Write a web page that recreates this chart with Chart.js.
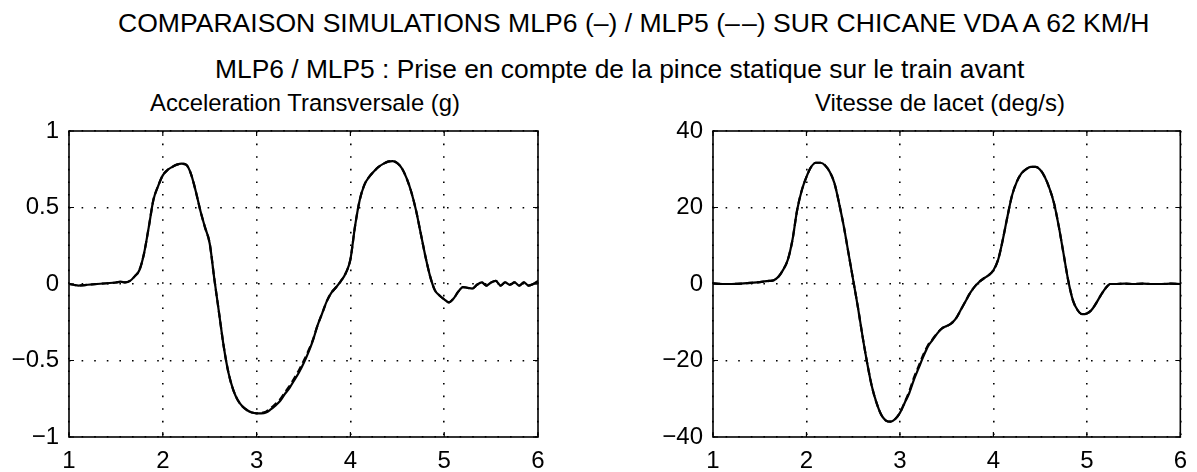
<!DOCTYPE html>
<html>
<head>
<meta charset="utf-8">
<script src="https://cdn.jsdelivr.net/npm/chart.js@4/dist/chart.umd.min.js"></script>
<style>
  html, body { margin: 0; padding: 0; background: #fff; }
  body { width: 1197px; height: 472px; position: relative; overflow: hidden;
         font-family: "Liberation Sans", Arial, Helvetica, sans-serif; color: #000; }
  .t { position: absolute; white-space: nowrap; line-height: 1; }
  canvas { position: absolute; top: 0; }
</style>
</head>
<body>
<div class="t" id="title1">COMPARAISON SIMULATIONS MLP6 (–) / MLP5 (–&#8202;–) SUR CHICANE VDA A 62 KM/H</div>
<div class="t" id="title2">MLP6 / MLP5 : Prise en compte de la pince statique sur le train avant</div>
<div class="t" id="sub1">Acceleration Transversale (g)</div>
<div class="t" id="sub2">Vitesse de lacet (deg/s)</div>
<canvas id="c1" width="600" height="472" style="left:0px"></canvas>
<canvas id="c2" width="597" height="472" style="left:600px"></canvas>
<script>
// ---------- DATA ----------
const xTickValues = [1, 2, 3, 4, 5, 6];
const xTickLabels = ["1", "2", "3", "4", "5", "6"];

const accTickValues = [-1, -0.5, 0, 0.5, 1];
const accTickLabels = ["\u22121", "\u22120.5", "0", "0.5", "1"];
const yawTickValues = [-40, -20, 0, 20, 40];
const yawTickLabels = ["\u221240", "\u221220", "0", "20", "40"];

const timeAcc = [1.0,1.05,1.1,1.2,1.3,1.4,1.5,1.55,1.6,1.65,1.7,1.75,1.8,1.85,1.9,1.95,
  2.0,2.05,2.1,2.15,2.2,2.25,2.3,2.35,2.4,2.45,2.5,2.55,2.6,2.65,2.7,2.75,2.8,2.85,2.9,2.95,
  3.0,3.05,3.1,3.15,3.2,3.25,3.3,3.35,3.4,3.45,3.5,3.55,3.6,3.65,3.7,3.75,3.8,3.85,3.9,3.95,
  4.0,4.05,4.1,4.15,4.2,4.25,4.3,4.35,4.4,4.45,4.5,4.55,4.6,4.65,4.7,4.75,4.8,4.85,4.9,4.95,
  5.0,5.05,5.1,5.15,5.2,5.25,5.3,5.35,5.4,5.45,5.5,5.55,5.6,5.65,5.7,5.75,5.8,5.85,5.9,5.95,6.0];

const accMLP6 = [0.0,-0.005,-0.01,-0.005,0.0,0.005,0.01,0.015,0.01,0.02,0.05,0.09,0.2,0.37,0.55,0.64,
  0.71,0.745,0.765,0.78,0.787,0.78,0.72,0.61,0.48,0.37,0.265,0.03,-0.19,-0.41,-0.58,-0.69,-0.76,-0.8,-0.825,-0.84,
  -0.845,-0.845,-0.84,-0.82,-0.795,-0.765,-0.72,-0.68,-0.63,-0.58,-0.52,-0.45,-0.37,-0.27,-0.19,-0.11,-0.055,-0.02,0.02,0.07,
  0.16,0.38,0.55,0.65,0.7,0.735,0.765,0.785,0.8,0.803,0.79,0.755,0.69,0.6,0.48,0.33,0.18,0.05,-0.04,-0.075,
  -0.1,-0.12,-0.095,-0.05,-0.02,-0.025,-0.03,-0.005,0.01,-0.01,0.01,0.02,-0.01,0.01,-0.005,0.01,-0.01,0.01,-0.01,0.0,0.02];

const accMLP5 = [0.0,-0.005,-0.01,-0.005,0.0,0.005,0.01,0.015,0.01,0.02,0.05,0.09,0.2,0.37,0.55,0.64,
  0.71,0.745,0.765,0.78,0.785,0.778,0.72,0.61,0.48,0.37,0.265,0.03,-0.19,-0.41,-0.58,-0.69,-0.76,-0.8,-0.825,-0.84,
  -0.845,-0.843,-0.835,-0.812,-0.785,-0.755,-0.71,-0.668,-0.618,-0.565,-0.505,-0.44,-0.365,-0.27,-0.19,-0.11,-0.055,-0.02,0.02,0.07,
  0.16,0.38,0.55,0.65,0.7,0.735,0.765,0.785,0.8,0.803,0.79,0.755,0.69,0.6,0.48,0.33,0.18,0.05,-0.04,-0.075,
  -0.1,-0.12,-0.095,-0.05,-0.02,-0.025,-0.03,-0.005,0.01,-0.01,0.01,0.02,-0.01,0.01,-0.005,0.01,-0.01,0.01,-0.01,0.0,0.02];

const timeYaw = [1.0,1.1,1.2,1.3,1.4,1.5,1.6,1.65,1.7,1.75,1.8,1.85,1.9,1.95,
  2.0,2.05,2.1,2.15,2.2,2.25,2.3,2.35,2.4,2.45,2.5,2.55,2.6,2.65,2.7,2.75,2.8,2.85,2.9,2.95,
  3.0,3.05,3.1,3.15,3.2,3.25,3.3,3.35,3.4,3.45,3.5,3.55,3.6,3.65,3.7,3.75,3.8,3.85,3.9,3.95,
  4.0,4.05,4.1,4.15,4.2,4.25,4.3,4.35,4.4,4.45,4.5,4.55,4.6,4.65,4.7,4.75,4.8,4.85,4.9,4.95,
  5.0,5.05,5.1,5.15,5.2,5.25,5.3,5.4,5.5,5.6,5.7,5.8,5.9,6.0];

const yawMLP6 = [0.2,0.0,0.0,0.1,0.3,0.5,0.8,1.0,1.9,3.7,6.3,11.5,19.3,24.5,
  28,30.6,31.7,31.7,31,29.3,26.3,21,15,8,1,-6,-13.7,-20.7,-26.8,-31.1,-34.2,-35.7,-36,-35.3,
  -33.7,-31.1,-28.5,-25,-22,-19,-16.3,-14.6,-12.9,-11.6,-11.0,-10.3,-9,-6.8,-4.6,-2.4,-0.7,0.6,1.5,2.3,
  3.6,6.3,11.5,17.6,23.2,26.7,28.9,30,30.6,30.6,29.9,28,25,21,15,8,1,-4.2,-6.8,-7.9,
  -7.7,-6.8,-5,-2.9,-1.1,0.0,0.0,0.1,0.0,0.1,0.0,0.0,0.1,0.0];

const yawMLP5 = [0.2,0.0,0.0,0.1,0.3,0.5,0.8,1.0,1.9,3.7,6.3,11.5,19.3,24.5,
  28,30.6,31.7,31.7,31,29.3,26.3,21,15,8,1,-6,-13.7,-20.7,-26.8,-31.1,-34.2,-35.7,-36,-35.3,
  -33.7,-31.0,-28.1,-24.5,-21.5,-18.5,-16.0,-14.4,-12.8,-11.6,-11.0,-10.3,-9,-6.8,-4.6,-2.4,-0.7,0.6,1.5,2.3,
  3.6,6.3,11.5,17.6,23.2,26.7,28.9,30,30.6,30.6,29.9,28,25,21,15,8,1,-4.2,-6.8,-7.9,
  -7.7,-6.8,-5,-2.9,-1.1,0.0,0.0,0.1,0.0,0.1,0.0,0.0,0.1,0.0];

// ---------- TEXT PLACEMENT ----------
const FONT = '"Liberation Sans", Arial, Helvetica, sans-serif';
function placeText(id, left, width, baseline) {
  const el = document.getElementById(id);
  el.style.fontSize = '20px';
  const w = el.getBoundingClientRect().width;
  const fs = 20 * width / w;
  el.style.fontSize = fs + 'px';
  el.style.left = left + 'px';
  el.style.top = (baseline - 0.8465 * fs) + 'px';
}
placeText('title1', 118, 1032, 32);
placeText('title2', 215, 810, 78);
placeText('sub1', 150, 310, 111);
placeText('sub2', 815, 250, 111);

// ---------- CHARTS ----------
const boxPlugin = {
  id: 'box',
  afterDraw(chart) {
    const {ctx, chartArea: a, scales} = chart;
    ctx.save();
    ctx.strokeStyle = '#000';
    ctx.lineWidth = 1.6;
    ctx.setLineDash([]);
    ctx.strokeRect(a.left, a.top, a.right - a.left, a.bottom - a.top);
    ctx.lineWidth = 1.2;
    const tl = 5;
    scales.x.ticks.forEach(t => {
      const px = scales.x.getPixelForValue(t.value);
      ctx.beginPath();
      ctx.moveTo(px, a.bottom); ctx.lineTo(px, a.bottom - tl);
      ctx.moveTo(px, a.top); ctx.lineTo(px, a.top + tl);
      ctx.stroke();
    });
    scales.y.ticks.forEach(t => {
      const py = scales.y.getPixelForValue(t.value);
      ctx.beginPath();
      ctx.moveTo(a.left, py); ctx.lineTo(a.left + tl, py);
      ctx.moveTo(a.right, py); ctx.lineTo(a.right - tl, py);
      ctx.stroke();
    });
    ctx.restore();
  }
};

function pts(xs, ys) { return xs.map((x, i) => ({x: x, y: ys[i]})); }

function makeChart(id, times, s6, s5, yMin, yMax, yStep, yVals, yLabels, yAxisW, padRight) {
  return new Chart(document.getElementById(id), {
    type: 'line',
    data: {
      datasets: [
        { label: 'MLP5', data: pts(times, s5), borderColor: '#000', borderWidth: 2.2,
          borderDash: [7, 4], pointRadius: 0, cubicInterpolationMode: 'monotone', fill: false },
        { label: 'MLP6', data: pts(times, s6), borderColor: '#000', borderWidth: 2.2,
          pointRadius: 0, cubicInterpolationMode: 'monotone', fill: false }
      ]
    },
    options: {
      responsive: false, animation: false, devicePixelRatio: 1,
      layout: { padding: { top: 131, right: padRight, left: 0, bottom: 0 } },
      plugins: { legend: { display: false }, title: { display: false }, tooltip: { enabled: false } },
      scales: {
        x: {
          type: 'linear', min: 1, max: 6,
          afterBuildTicks: s => { s.ticks = xTickValues.map(v => ({value: v})); },
          afterFit: s => { s.height = 35; },
          ticks: { color: '#000', font: { family: FONT, size: 24 }, padding: 10, maxRotation: 0,
                   callback: v => xTickLabels[xTickValues.indexOf(v)] },
          grid: { color: '#000', lineWidth: 1.6, drawTicks: false },
          border: { display: false, dash: [1.6, 11] }
        },
        y: {
          type: 'linear', min: yMin, max: yMax,
          afterBuildTicks: s => { s.ticks = yVals.map(v => ({value: v})); },
          afterFit: s => { s.width = yAxisW; },
          ticks: { color: '#000', font: { family: FONT, size: 24 }, padding: 10,
                   callback: v => yLabels[yVals.indexOf(v)] },
          grid: { color: '#000', lineWidth: 1.6, drawTicks: false },
          border: { display: false, dash: [1.6, 11] }
        }
      }
    },
    plugins: [boxPlugin]
  });
}

makeChart('c1', timeAcc, accMLP6, accMLP5, -1, 1, 0.5, accTickValues, accTickLabels, 69, 62);
makeChart('c2', timeYaw, yawMLP6, yawMLP5, -40, 40, 20, yawTickValues, yawTickLabels, 113, 14);
</script>
</body>
</html>
